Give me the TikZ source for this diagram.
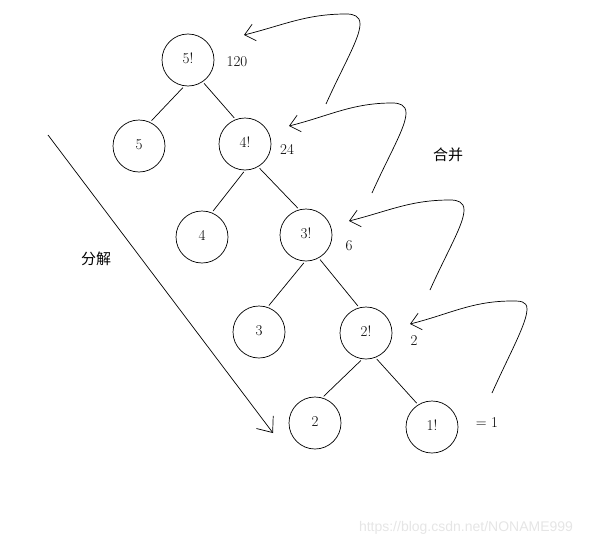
\documentclass[tikz,border=0pt]{standalone}
\usepackage{fontspec}
\newfontfamily\cjk{Noto Sans CJK SC}
\newfontfamily\wmfont{Liberation Sans}
\usetikzlibrary{arrows.meta,calc}

\begin{document}
\begin{tikzpicture}[x=1pt,y=-1pt,line width=0.7pt,font=\fontsize{15}{17}\selectfont,
  circ/.style={circle,draw,minimum size=52pt,inner sep=0pt,text height=10pt,text depth=3pt},
  branch/.style={shorten >=2pt,shorten <=2pt},
  merge/.style={-{Straight Barb[length=10pt,width=17pt]}},
  split/.style={-{Straight Barb[length=13pt,width=21pt]}}]
\useasboundingbox (0,0) rectangle (597,546);
% the recursion tree
\node[circ] (f5) at (188,60) {5!};
\node[circ] (k5) at (139,146) {5};
\node[circ] (f4) at (245,144) {4!};
\node[circ] (k4) at (202,237) {4};
\node[circ] (f3) at (306,235) {3!};
\node[circ] (k3) at (259,332) {3};
\node[circ] (f2) at (366,333) {2!};
\node[circ] (k2) at (315,423) {2};
\node[circ] (f1) at (432,427) {1!};
\draw[branch] (f5.-98) -- (k5.65);
\draw[branch] (f5.-56) -- (f4.111);
\draw[branch] (f4.-90) -- (k4.68);
\draw[branch] (f4.-60) -- (f3.105);
\draw[branch] (f3.-92) -- (k3.71);
\draw[branch] (f3.-61) -- (f2.105);
\draw[branch] (f2.-98) -- (k2.74);
\draw[branch] (f2.-69) -- (f1.122);
% values
\node (V5) at (237,62) {120};
\node (V4) at (287,149) {24};
\node (V3) at (349,246) {6};
\node (V2) at (414,341) {2};
\node (V1) at (487,423) {= 1};
% decomposition
\coordinate (D0) at (48,135);
\coordinate (D1) at (273,433);
\draw[split] (D0) -- (D1);
\node (split) at (96,259) {\cjk 分解};
% merging back up
\node (merge) at (448,155) {\cjk 合并};
\coordinate (m1) at (326,104); \coordinate (t1) at (244,35);
\coordinate (m2) at (372,193); \coordinate (t2) at (289,126);
\coordinate (m3) at (430,290); \coordinate (t3) at (349,221);
\coordinate (m4) at (492,393); \coordinate (t4) at (410,324);
\draw[merge] (m1) .. controls +(18,-40) and +(0,14) .. ++(34,-80) .. controls +(0,-8) and +(8,0) .. ++(-14,-10) .. controls +(-40,0) and +(40,-10) .. (t1);
\draw[merge] (m2) .. controls +(18,-40) and +(0,14) .. ++(34,-80) .. controls +(0,-8) and +(8,0) .. ++(-14,-10) .. controls +(-40,0) and +(40,-10) .. (t2);
\draw[merge] (m3) .. controls +(18,-40) and +(0,14) .. ++(34,-80) .. controls +(0,-8) and +(8,0) .. ++(-14,-10) .. controls +(-40,0) and +(40,-10) .. (t3);
\draw[merge] (m4) .. controls +(18,-40) and +(0,14) .. ++(35,-84) .. controls +(0,-8) and +(8,0) .. ++(-15,-8) .. controls +(-40,0) and +(40,-10) .. (t4);
% watermark
\node[text=black!10,font=\wmfont\fontsize{14}{16}\selectfont] (wm) at (466,528) {https://blog.csdn.net/NONAME999};
\end{tikzpicture}
\end{document}
